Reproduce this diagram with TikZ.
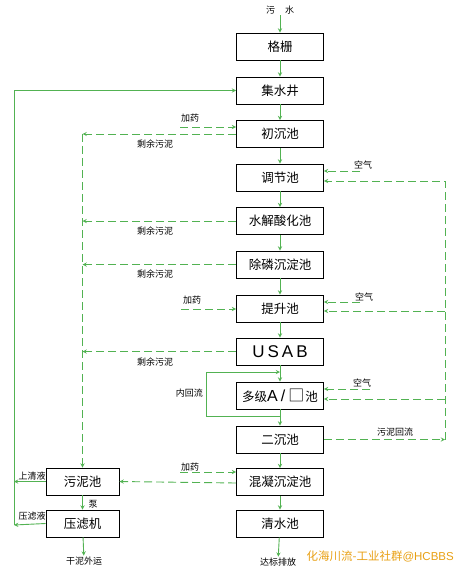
\documentclass[tikz,border=0pt]{standalone}
\usepackage{fontspec}
\setmainfont{Noto Sans CJK SC}
\newfontfamily\latinsf{Liberation Sans}
\usepackage{tikz}
\usetikzlibrary{positioning, calc}
\definecolor{swgreen}{RGB}{82,178,82}
\definecolor{wmorange}{RGB}{232,160,20}

\begin{document}
\begin{tikzpicture}[x=1pt, y=-1pt, >=stealth,
            box/.style={rectangle, draw=black, line width=0.9pt, minimum width=87pt, minimum height=27pt, inner sep=0pt, font=\fontsize{12.5}{14}\selectfont},
            sbox/.style={box, minimum width=73pt},
            lbl/.style={inner sep=1pt, font=\fontsize{9}{10}\selectfont},
            flow/.style={->, swgreen, line width=0.9pt},
            dsh/.style={swgreen, line width=0.9pt, dash pattern=on 8pt off 4pt}
        ]
            \useasboundingbox (0,0) rectangle (460,572);

            % main line
            \node[lbl] (raw) at (280,10) {污\hspace{10pt}水};
            \node[box] (grid) at (280,46.5) {格栅};
            \node[box] (well) at (280,90.5) {集水井};
            \node[box] (prim) at (280,134) {初沉池};
            \node[box] (equ) at (280,177.5) {调节池};
            \node[box] (hydro) at (280,221) {水解酸化池};
            \node[box] (prem) at (280,264.5) {除磷沉淀池};
            \node[box] (lift) at (280,308.5) {提升池};
            \node[box] (usab) at (280,351.5) {\latinsf\fontsize{17}{18}\selectfont U\hspace{3pt}S\hspace{3pt}A\hspace{3pt}B};
            \node[box] (ao) at (280,395.5) {多级\latinsf\fontsize{16}{18}\selectfont A\hspace{3pt}/\hspace{3pt}\normalfont\fontsize{16}{18}\selectfont□\hspace{1pt}\fontsize{12.5}{14}\selectfont 池};
            \node[box] (sec) at (280,439.5) {二沉池};
            \node[box] (coag) at (280,482) {混凝沉淀池};
            \node[box] (clear) at (280,523.5) {清水池};
            \node[lbl] (out) at (278,562) {达标排放};

            \draw[flow] (raw) -- (grid);
            \foreach \a/\b in {grid/well, well/prim, prim/equ, equ/hydro, hydro/prem, prem/lift, lift/usab, usab/ao, ao/sec, sec/coag, coag/clear}
                \draw[flow] (\a) -- (\b);
            \draw[flow] (clear) -- (out);

            % sludge side
            \node[sbox] (sludge) at (82.5,481.5) {污泥池};
            \node[sbox] (press) at (82.5,523.5) {压滤机};
            \node[lbl] (cake) at (84,561) {干泥外运};
            \node[lbl] (pump) at (93,504) {泵};
            \draw[flow] (sludge) -- (press);
            \draw[flow] (press) -- (cake);

            % excess sludge
            \coordinate (st) at (sludge.north |- prim.west);
            \foreach \n in {prim, hydro, prem, usab}
                \draw[dsh, ->] (\n.west) -- (\n.west -| st);
            \draw[dsh, ->] (st) -- (sludge.north);
            \node[lbl] (ex1) at (155,144) {剩余污泥};
            \node[lbl] (ex2) at (155,231) {剩余污泥};
            \node[lbl] (ex3) at (155,274) {剩余污泥};
            \node[lbl] (ex4) at (155,362) {剩余污泥};
            \draw[dsh, ->] (coag.west |- 0,483) -- (sludge.east);

            % dosing
            \node[lbl] (dose1) at (190,118) {加药};
            \node[lbl] (dose2) at (192,300) {加药};
            \node[lbl] (dose3) at (190,467) {加药};
            \coordinate (d1) at (180,127);
            \coordinate (d2) at (181,309);
            \coordinate (d3) at (180,472);
            \draw[dsh, ->] (d1) -- (d1 -| prim.west);
            \draw[dsh, ->] (d2) -- (d2 -| lift.west);
            \draw[dsh, ->] (d3) -- (d3 -| coag.west);

            % air
            \node[lbl] (air1) at (363,165) {空气};
            \node[lbl] (air2) at (364,297) {空气};
            \node[lbl] (air3) at (362,383) {空气};
            \coordinate (a1) at (360,171);
            \coordinate (a2) at (360,302);
            \coordinate (a3) at (370,389);
            \draw[dsh, ->] (a1) -- (a1 -| equ.east);
            \draw[dsh, ->] (a2) -- (a2 -| lift.east);
            \draw[dsh, ->] (a3) -- (a3 -| ao.east);

            % sludge return
            \node[lbl] (ret) at (395,432) {污泥回流};
            \coordinate (rb) at (445,439.5);
            \coordinate (rt) at (445,181);
            \coordinate (r2) at (445,311);
            \coordinate (r3) at (445,399);
            \draw[dsh, ->] (sec.east) -- (rb);
            \draw[dsh, ->] (rb) -- (rt) -- (rt -| equ.east);
            \draw[dsh, ->] (r2) -- (r2 -| lift.east);
            \draw[dsh, ->] (r3) -- (r3 -| ao.east);

            % internal recycle
            \coordinate (it) at (206,372);
            \coordinate (ib) at (206,416);
            \draw[flow] (ao.south |- ib) -- (ib) -- (it) -- (ao.north |- it);
            \node[lbl, anchor=east] (inner) at (204,393) {内回流};

            % filtrate back to well
            \coordinate (lt) at (14,90.5);
            \coordinate (lb) at (14,525);
            \draw[flow] (sludge.west) -- (sludge.west -| lt);
            \draw[flow] (press.west) -- (lb);
            \draw[flow] (lb) -- (lt) -- (well.west);
            \node[lbl] (sup) at (32,476) {上清液};
            \node[lbl] (filt) at (32,516) {压滤液};

            % watermark
            \node[wmorange, font=\fontsize{11.5}{13}\selectfont, inner sep=0pt, anchor=east] (wm1) at (454,556) {化海川流-工业社群\latinsf @HCBBS};
        \end{tikzpicture}
\end{document}
